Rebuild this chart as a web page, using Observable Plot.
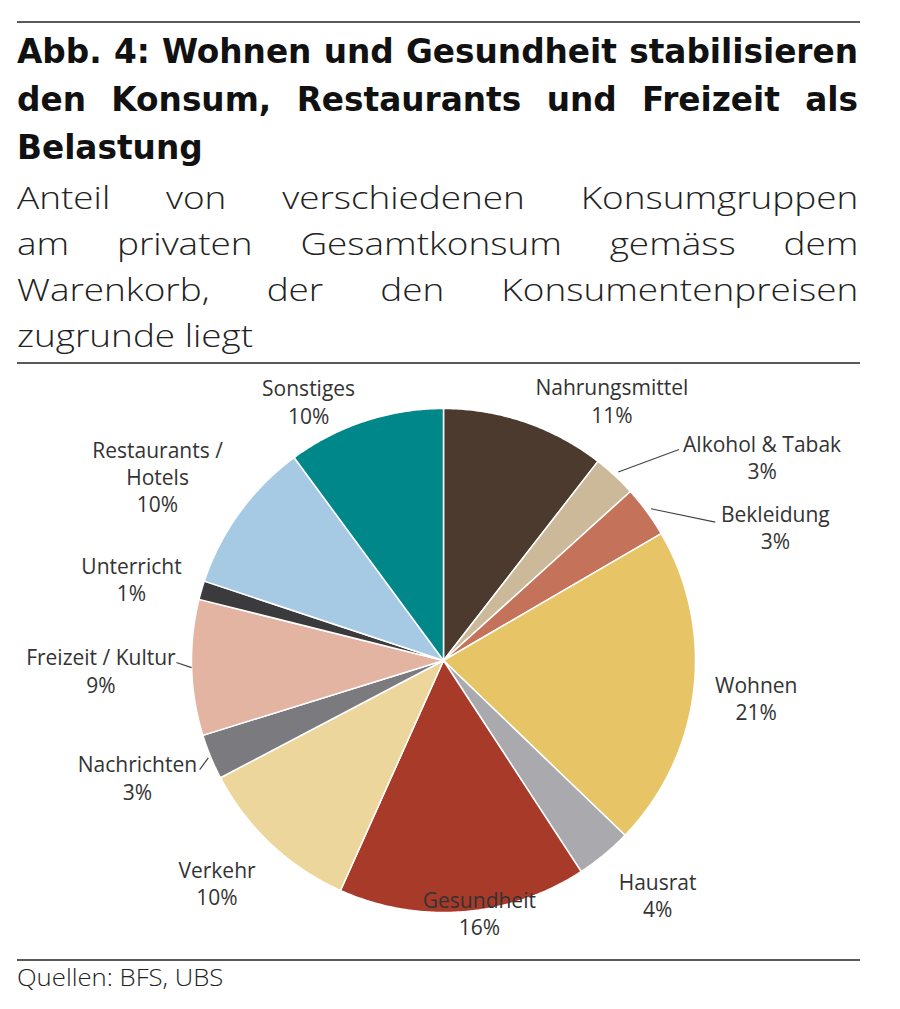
<!DOCTYPE html>
<html>
<head>
<meta charset="utf-8">
<script src="https://cdn.jsdelivr.net/npm/d3@7"></script>
<script src="https://cdn.jsdelivr.net/npm/@observablehq/plot@0.6"></script>
<style>
  html, body { margin: 0; padding: 0; background: #fff; }
  body { width: 900px; height: 1009px; position: relative; overflow: hidden; color: #111; }
  .rule { position: absolute; left: 17px; width: 843px; height: 2px; background: #5a5a5a; }
  .block { position: absolute; left: 17px; transform-origin: 0 0; }
  .title { font-family: "DejaVu Sans Condensed", "Liberation Sans Narrow", "Roboto", sans-serif; font-weight: bold; font-size: 34px; line-height: 48px; color: #111; width: 786px; transform: scaleX(1.07); }
  .sub { font-family: "Open Sans", "Lato", sans-serif; font-weight: 300; font-size: 31px; line-height: 46px; color: #222; width: 707px; transform: scaleX(1.19); }
  .j { text-align: justify; text-align-last: justify; white-space: nowrap; }
  .l { text-align: left; white-space: nowrap; }
  .cap { font-family: "Open Sans", sans-serif; font-weight: 300; font-size: 24px; line-height: 30px; color: #222; transform: scaleX(1.07); }
  #chart { position: absolute; left: 0; top: 365px; }
</style>
</head>
<body>
<div class="rule" style="top:21px"></div>
<div class="block title" style="top:27px">
  <div class="j">Abb. 4: Wohnen und Gesundheit stabilisieren</div>
  <div class="j">den Konsum, Restaurants und Freizeit als</div>
  <div class="l">Belastung</div>
</div>
<div class="block sub" style="top:174px">
  <div class="j">Anteil von verschiedenen Konsumgruppen</div>
  <div class="j">am privaten Gesamtkonsum gemäss dem</div>
  <div class="j">Warenkorb, der den Konsumentenpreisen</div>
  <div class="l">zugrunde liegt</div>
</div>
<div class="rule" style="top:362px"></div>
<div id="chart"></div>
<div class="rule" style="top:959px"></div>
<div class="block cap" style="top:962px">Quellen: BFS, UBS</div>

<script>
// ---- data ----
const categories = ["Nahrungsmittel", "Alkohol & Tabak", "Bekleidung", "Wohnen", "Hausrat", "Gesundheit",
  "Verkehr", "Nachrichten", "Freizeit / Kultur", "Unterricht", "Restaurants / Hotels", "Sonstiges"];
const shares = [10.5, 2.8, 3.3, 20.6, 3.6, 15.9, 10.6, 2.9, 8.7, 1.2, 9.8, 10.1];
const shareLabels = ["11%", "3%", "3%", "21%", "4%", "16%", "10%", "3%", "9%", "1%", "10%", "10%"];
const labelText = ["Nahrungsmittel", "Alkohol & Tabak", "Bekleidung", "Wohnen", "Hausrat", "Gesundheit",
  "Verkehr", "Nachrichten", "Freizeit / Kultur", "Unterricht", "Restaurants /\nHotels", "Sonstiges"];
const colors = ["#4d3a2e", "#cbb999", "#c4725a", "#e7c466", "#aaaaae", "#a83a2a",
  "#ecd69b", "#7b7b7f", "#e4b4a3", "#3b3b3d", "#a6cae4", "#00878a"];

// ---- label layout (angle shift in degrees, radius factor) ----
const labelShift = [14, 14.6, 14.2, 0, -2.8, -3.6, 2.3, 1.6, 0, -1.5, -3.2, -9.3];
const labelRadius = [1.23, 1.5, 1.42, 1.25, 1.26, 1.01, 1.26, 1.3, 1.36, 1.28, 1.35, 1.16];
// leader lines: slice index, start radius, end angle shift, end radius
const leaders = [
  {i: 1, r0: 1.02, da: 5.3, r1: 1.255},
  {i: 2, r0: 1.02, da: 9.2, r1: 1.21},
  {i: 8, r0: 1.0, da: 1.2, r1: 1.06},
  {i: 7, r0: 1.01, da: -1.6, r1: 1.06}
];

const deg = Math.PI / 180;
const arcs = d3.pie().sort(null).value(d => d)(shares);
const polar = (a, r) => [r * Math.sin(a), r * Math.cos(a)];

// slice outlines
const slicePts = [];
arcs.forEach((a, i) => {
  const n = Math.max(4, Math.ceil((a.endAngle - a.startAngle) / (0.5 * deg)));
  slicePts.push({name: categories[i], x: 0, y: 0});
  for (let k = 0; k <= n; k++) {
    const t = a.startAngle + (a.endAngle - a.startAngle) * k / n;
    const [x, y] = polar(t, 1);
    slicePts.push({name: categories[i], x, y});
  }
  slicePts.push({name: categories[i], x: 0, y: 0});
});

const labels = arcs.map((a, i) => {
  const mid = (a.startAngle + a.endAngle) / 2 + labelShift[i] * deg;
  const [x, y] = polar(mid, labelRadius[i]);
  return {x, y, text: labelText[i] + "\n" + shareLabels[i]};
});

const leaderLines = leaders.map(l => {
  const a = arcs[l.i];
  const mid = (a.startAngle + a.endAngle) / 2;
  const [x1, y1] = polar(mid, l.r0);
  const [x2, y2] = polar(mid + l.da * deg, l.r1);
  return {x1, y1, x2, y2};
});

const cx = 443, cy = 295, R = 252;
const chart = Plot.plot({
  width: 900,
  height: 593,
  margin: 0,
  style: {background: "transparent", fontFamily: "Open Sans, sans-serif"},
  x: {domain: [-1, 1], range: [cx - R, cx + R], axis: null},
  y: {domain: [-1, 1], range: [cy + R, cy - R], axis: null},
  color: {domain: categories, range: colors},
  marks: [
    Plot.line(slicePts, {x: "x", y: "y", z: "name", fill: "name", stroke: "white", strokeWidth: 1.5, strokeLinejoin: "round"}),
    Plot.link(leaderLines, {x1: "x1", y1: "y1", x2: "x2", y2: "y2", stroke: "#444", strokeWidth: 1.2}),
    Plot.text(labels, {x: "x", y: "y", text: "text", fontSize: 21, lineHeight: 1.3, fill: "#333", textAnchor: "middle", lineAnchor: "middle"})
  ]
});
document.getElementById("chart").appendChild(chart);
</script>
</body>
</html>
